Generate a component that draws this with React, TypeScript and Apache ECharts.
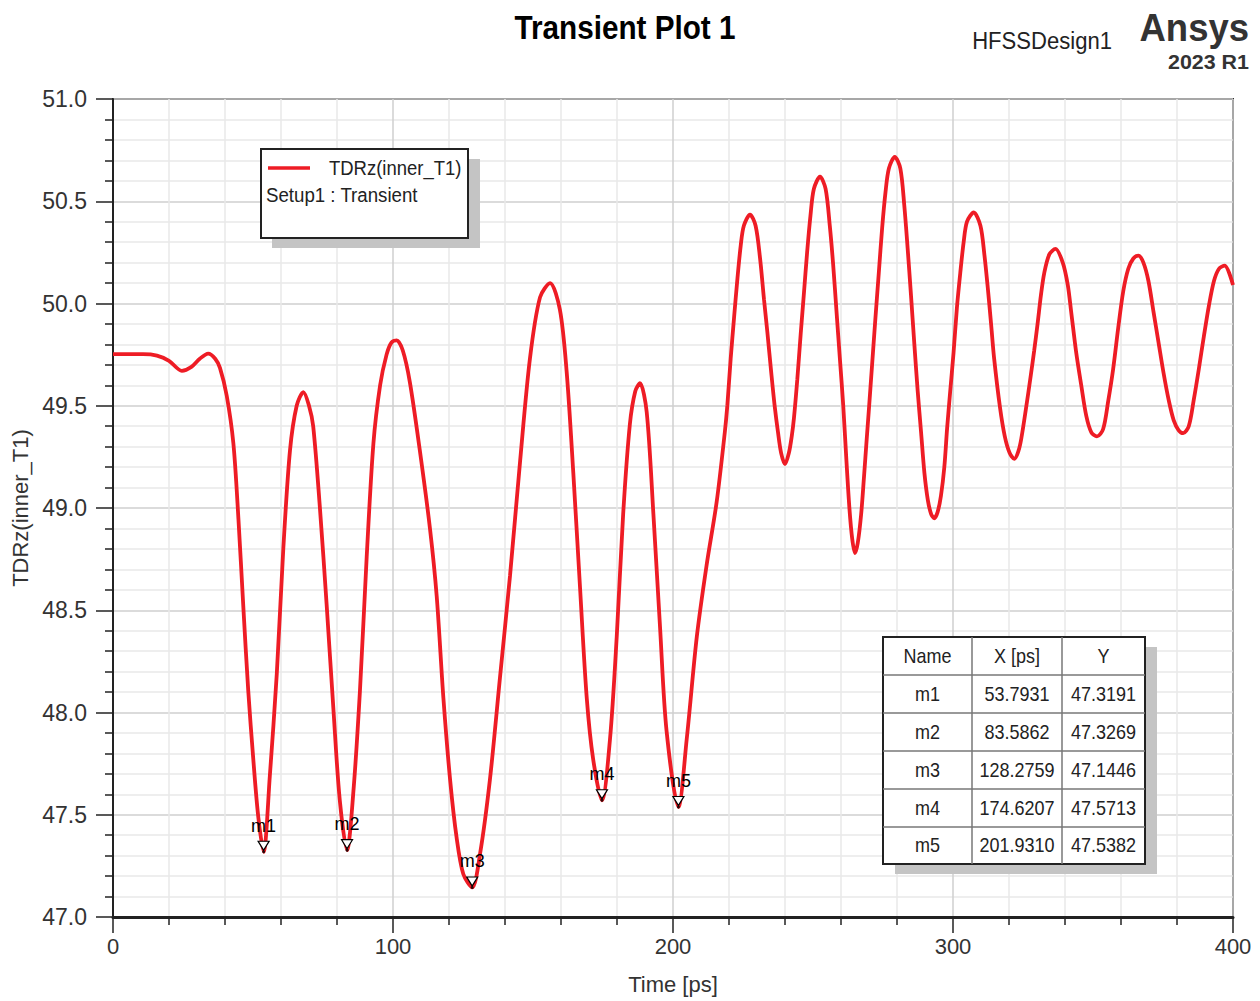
import React, { useEffect, useRef } from "react";
import * as echarts from "echarts";

// TDRz(inner_T1) curve: [time ps, impedance]
const tdrzCurve: [number, number][] = [
  [0, 49.752], [5, 49.752], [10.7, 49.752], [15.7, 49.745], [20, 49.72], [24.6, 49.671],
  [28, 49.69], [31, 49.73], [34, 49.755], [36.5, 49.73], [38.2, 49.685], [40.6, 49.55],
  [43, 49.315], [44.8, 48.946], [46.5, 48.527], [48.3, 48.107], [50.1, 47.772], [51.9, 47.487],
  [53.79, 47.319], [56, 47.688], [58.5, 48.19], [60.8, 48.795], [63.2, 49.28], [65.6, 49.5],
  [68, 49.567], [70, 49.5], [71.5, 49.4], [73.9, 49.0], [76.3, 48.527], [78.7, 48.02], [81, 47.57],
  [83.59, 47.327], [85.8, 47.604], [88.2, 48.107], [90.6, 48.76], [93, 49.315], [95.4, 49.6],
  [97.7, 49.75], [99.5, 49.81], [101.3, 49.82], [103.5, 49.77], [106, 49.617], [109.6, 49.28],
  [113.2, 48.9], [115.6, 48.57], [118, 48.07], [120.4, 47.67], [122.7, 47.39], [125.1, 47.21],
  [128.28, 47.145], [131.1, 47.31], [134.6, 47.67], [138.2, 48.17], [141.8, 48.67], [145.4, 49.23],
  [148.9, 49.73], [152.5, 50.03], [156.1, 50.1], [159.6, 49.97], [162, 49.67], [164.4, 49.17],
  [166.8, 48.61], [169.2, 48.07], [171.5, 47.77], [174.62, 47.571], [177.5, 47.87], [179.9, 48.37],
  [182.2, 48.97], [184.6, 49.41], [186.5, 49.57], [188.2, 49.61], [190.6, 49.47], [193, 48.97],
  [195.4, 48.41], [197.7, 47.91], [201.93, 47.538], [204.9, 47.87], [208.5, 48.37], [212, 48.72],
  [215.6, 49.03], [218.5, 49.37], [219.4, 49.5], [220.6, 49.73], [221.8, 49.93], [223, 50.12],
  [224.2, 50.285], [225.3, 50.38], [227.5, 50.435], [229.5, 50.38], [231.1, 50.22], [232.5, 50.02],
  [233.7, 49.86], [235.1, 49.66], [236.3, 49.5], [237.5, 49.37], [238.6, 49.27], [240, 49.215],
  [241.4, 49.27], [242.4, 49.35], [243.2, 49.44], [244.4, 49.63], [245.6, 49.85], [246.7, 50.04],
  [247.9, 50.25], [249.1, 50.43], [250.3, 50.56], [252.5, 50.62], [254.5, 50.56], [256, 50.38],
  [257.2, 50.19], [258.4, 49.96], [259.6, 49.73], [260.8, 49.5], [261.9, 49.24], [263, 49.0],
  [264, 48.85], [265, 48.78], [266, 48.83], [267.2, 48.97], [268.2, 49.15], [269.2, 49.34],
  [269.9, 49.47], [271.1, 49.7], [272.3, 49.93], [273.5, 50.15], [274.7, 50.37], [275.9, 50.545],
  [277.1, 50.66], [279.2, 50.717], [281.2, 50.66], [282.6, 50.48], [283.8, 50.27], [285, 50.04],
  [286.2, 49.8], [287.4, 49.57], [288.6, 49.37], [289.8, 49.17], [291, 49.04], [292.2, 48.97],
  [293.3, 48.95], [294.5, 48.98], [295.7, 49.06], [296.9, 49.2], [297.9, 49.39], [299, 49.57],
  [300.2, 49.76], [301.4, 49.98], [302.6, 50.15], [303.8, 50.3], [305, 50.4], [307.4, 50.445],
  [309.8, 50.38], [311.2, 50.24], [312.4, 50.08], [313.6, 49.9], [314.7, 49.73], [316.8, 49.49],
  [318.5, 49.35], [320.2, 49.27], [321.9, 49.24], [323.4, 49.28], [324.4, 49.34], [326, 49.48],
  [327.8, 49.65], [329, 49.77], [330.2, 49.9], [331.4, 50.04], [332.6, 50.15], [334.4, 50.24],
  [336.6, 50.267], [339.2, 50.2], [341, 50.09], [342.2, 49.96], [344, 49.76], [345.8, 49.6],
  [347.6, 49.45], [349.4, 49.37], [351.4, 49.35], [353.6, 49.385], [355.4, 49.52], [357.2, 49.68],
  [359, 49.88], [360.8, 50.06], [362.6, 50.17], [364.4, 50.22], [366.2, 50.234], [368, 50.2],
  [369.8, 50.11], [371.6, 49.96], [373.4, 49.81], [375.2, 49.66], [377, 49.53], [378.8, 49.43],
  [380.6, 49.38], [382.2, 49.366], [384.2, 49.4], [386, 49.53], [387.8, 49.68], [389.6, 49.84],
  [391.4, 49.99], [393.2, 50.11], [395, 50.17], [397, 50.185], [400, 50.09],
];

// markers
const markerNames = ["m1", "m2", "m3", "m4", "m5"];
const markerX = [53.7931, 83.5862, 128.2759, 174.6207, 201.931];
const markerY = [47.3191, 47.3269, 47.1446, 47.5713, 47.5382];
const tableHeaders = ["Name", "X [ps]", "Y"];

const xTicks = [0, 100, 200, 300, 400];
const yTicks = [47, 47.5, 48, 48.5, 49, 49.5, 50, 50.5, 51];

const FONT = "'Liberation Sans Narrow', 'Liberation Sans', Arial, sans-serif";
const RED = "#ee1c25";

export default function App() {
  const ref = useRef<HTMLDivElement>(null);

  useEffect(() => {
    if (!ref.current) return;
    const chart = echarts.init(ref.current, null, { renderer: "svg" });

    // table graphic
    const tx = [883, 972, 1062, 1145];
    const ty = [637, 675, 713, 751, 789, 827, 864];
    const tableEls: any[] = [];
    tableEls.push({
      type: "rect", shape: { x: tx[0] + 12, y: ty[0] + 10, width: tx[3] - tx[0], height: ty[6] - ty[0] },
      style: { fill: "#c4c4c4" }, z: 10,
    });
    tableEls.push({
      type: "rect", shape: { x: tx[0], y: ty[0], width: tx[3] - tx[0], height: ty[6] - ty[0] },
      style: { fill: "#fff", stroke: "#222", lineWidth: 2 }, z: 11,
    });
    for (let i = 1; i < 6; i++) {
      tableEls.push({
        type: "line", shape: { x1: tx[0], y1: ty[i], x2: tx[3], y2: ty[i] },
        style: { stroke: "#777", lineWidth: 1.5 }, z: 12,
      });
    }
    for (let j = 1; j < 3; j++) {
      tableEls.push({
        type: "line", shape: { x1: tx[j], y1: ty[0], x2: tx[j], y2: ty[6] },
        style: { stroke: "#777", lineWidth: 1.5 }, z: 12,
      });
    }
    const rows: string[][] = [tableHeaders];
    markerNames.forEach((n, i) => rows.push([n, markerX[i].toFixed(4), markerY[i].toFixed(4)]));
    rows.forEach((r, i) => {
      r.forEach((cell, j) => {
        tableEls.push({
          type: "text", z: 13,
          x: (tx[j] + tx[j + 1]) / 2, y: (ty[i] + ty[i + 1]) / 2, scaleX: 0.9,
          style: { text: cell, fill: "#222", font: `20px ${FONT}`, align: "center", verticalAlign: "middle" },
        });
      });
    });

    const option: any = {
      animation: false,
      backgroundColor: "#fff",
      grid: { left: 113, top: 99, width: 1120, height: 818, show: true, borderColor: "#333", borderWidth: 2 },
      xAxis: {
        type: "value", min: xTicks[0], max: xTicks[xTicks.length - 1], interval: 100,
        name: "Time [ps]", nameLocation: "middle", nameGap: 56,
        nameTextStyle: { fontFamily: FONT, fontSize: 22, color: "#333" },
        axisLine: { show: true, onZero: false, lineStyle: { color: "#222", width: 3 } },
        axisTick: { show: true, length: 16, lineStyle: { color: "#222", width: 1.5 } },
        minorTick: { show: true, splitNumber: 5, length: 8, lineStyle: { color: "#222", width: 1.5 } },
        axisLabel: { fontFamily: FONT, fontSize: 22, color: "#333", margin: 18 },
        splitLine: { show: true, lineStyle: { color: "#cfcfcf", width: 1.5 } },
        minorSplitLine: { show: true, lineStyle: { color: "#e8e8e8", width: 1.5 } },
      },
      yAxis: {
        type: "value", min: yTicks[0], max: yTicks[yTicks.length - 1], interval: 0.5,
        name: "TDRz(inner_T1)", nameLocation: "middle", nameGap: 82,
        nameTextStyle: { fontFamily: FONT, fontSize: 22, color: "#333" },
        axisLine: { show: true, onZero: false, lineStyle: { color: "#222", width: 2 } },
        axisTick: { show: true, length: 17, lineStyle: { color: "#222", width: 1.5 } },
        minorTick: { show: true, splitNumber: 5, length: 8, lineStyle: { color: "#222", width: 1.5 } },
        axisLabel: {
          fontFamily: FONT, fontSize: 23, color: "#333", margin: 26,
          formatter: (v: number) => v.toFixed(1),
        },
        splitLine: { show: true, lineStyle: { color: "#cfcfcf", width: 1.5 } },
        minorSplitLine: { show: true, lineStyle: { color: "#e8e8e8", width: 1.5 } },
      },
      series: [
        {
          type: "line", name: "TDRz(inner_T1)", data: tdrzCurve, showSymbol: false,
          smooth: 0.3, lineStyle: { color: RED, width: 3.8 }, z: 3,
        },
        {
          type: "scatter", data: markerX.map((x, i) => ({ value: [x, markerY[i]], name: markerNames[i] })),
          symbol: "triangle", symbolRotate: 180, symbolSize: [11, 9], symbolOffset: [0, -6],
          itemStyle: { color: "#fff", borderColor: "#000", borderWidth: 1.2, opacity: 1 },
          label: {
            show: true, position: "top", distance: 6, formatter: (p: any) => p.name,
            fontFamily: FONT, fontSize: 18, color: "#000",
          },
          z: 5,
        },
        {
          type: "scatter", data: markerX.map((x, i) => [x, markerY[i]]),
          symbol: "circle", symbolSize: 3, itemStyle: { color: "#000" }, z: 6,
        },
      ],
      graphic: [
        { type: "text", x: 625, y: 28, scaleX: 0.9, style: { text: "Transient Plot 1", font: `bold 33px ${FONT}`, fill: "#000", align: "center", verticalAlign: "middle" } },
        { type: "text", x: 1112, y: 41, scaleX: 0.92, style: { text: "HFSSDesign1", font: `24px ${FONT}`, fill: "#222", align: "right", verticalAlign: "middle" } },
        { type: "text", x: 1249, y: 28, scaleX: 0.96, style: { text: "Ansys", font: `bold 38px ${FONT}`, fill: "#333", align: "right", verticalAlign: "middle" } },
        { type: "text", x: 1249, y: 62, scaleX: 1.02, style: { text: "2023 R1", font: `bold 21px ${FONT}`, fill: "#333", align: "right", verticalAlign: "middle" } },
        // legend
        { type: "rect", z: 10, shape: { x: 272, y: 159, width: 208, height: 89 }, style: { fill: "#c4c4c4" } },
        { type: "rect", z: 11, shape: { x: 261, y: 149, width: 207, height: 89 }, style: { fill: "#fff", stroke: "#222", lineWidth: 2 } },
        { type: "line", z: 12, shape: { x1: 268, y1: 168, x2: 310, y2: 168 }, style: { stroke: RED, lineWidth: 3.5 } },
        { type: "text", z: 12, x: 329, y: 168, scaleX: 0.88, style: { text: "TDRz(inner_T1)", font: `21px ${FONT}`, fill: "#222", verticalAlign: "middle" } },
        { type: "text", z: 12, x: 266, y: 195, scaleX: 0.89, style: { text: "Setup1 : Transient", font: `21px ${FONT}`, fill: "#222", verticalAlign: "middle" } },
        ...tableEls,
      ],
    };
    chart.setOption(option);
    return () => chart.dispose();
  }, []);

  return <div ref={ref} style={{ width: 1260, height: 1001, position: "absolute", left: 0, top: 0 }} />;
}
